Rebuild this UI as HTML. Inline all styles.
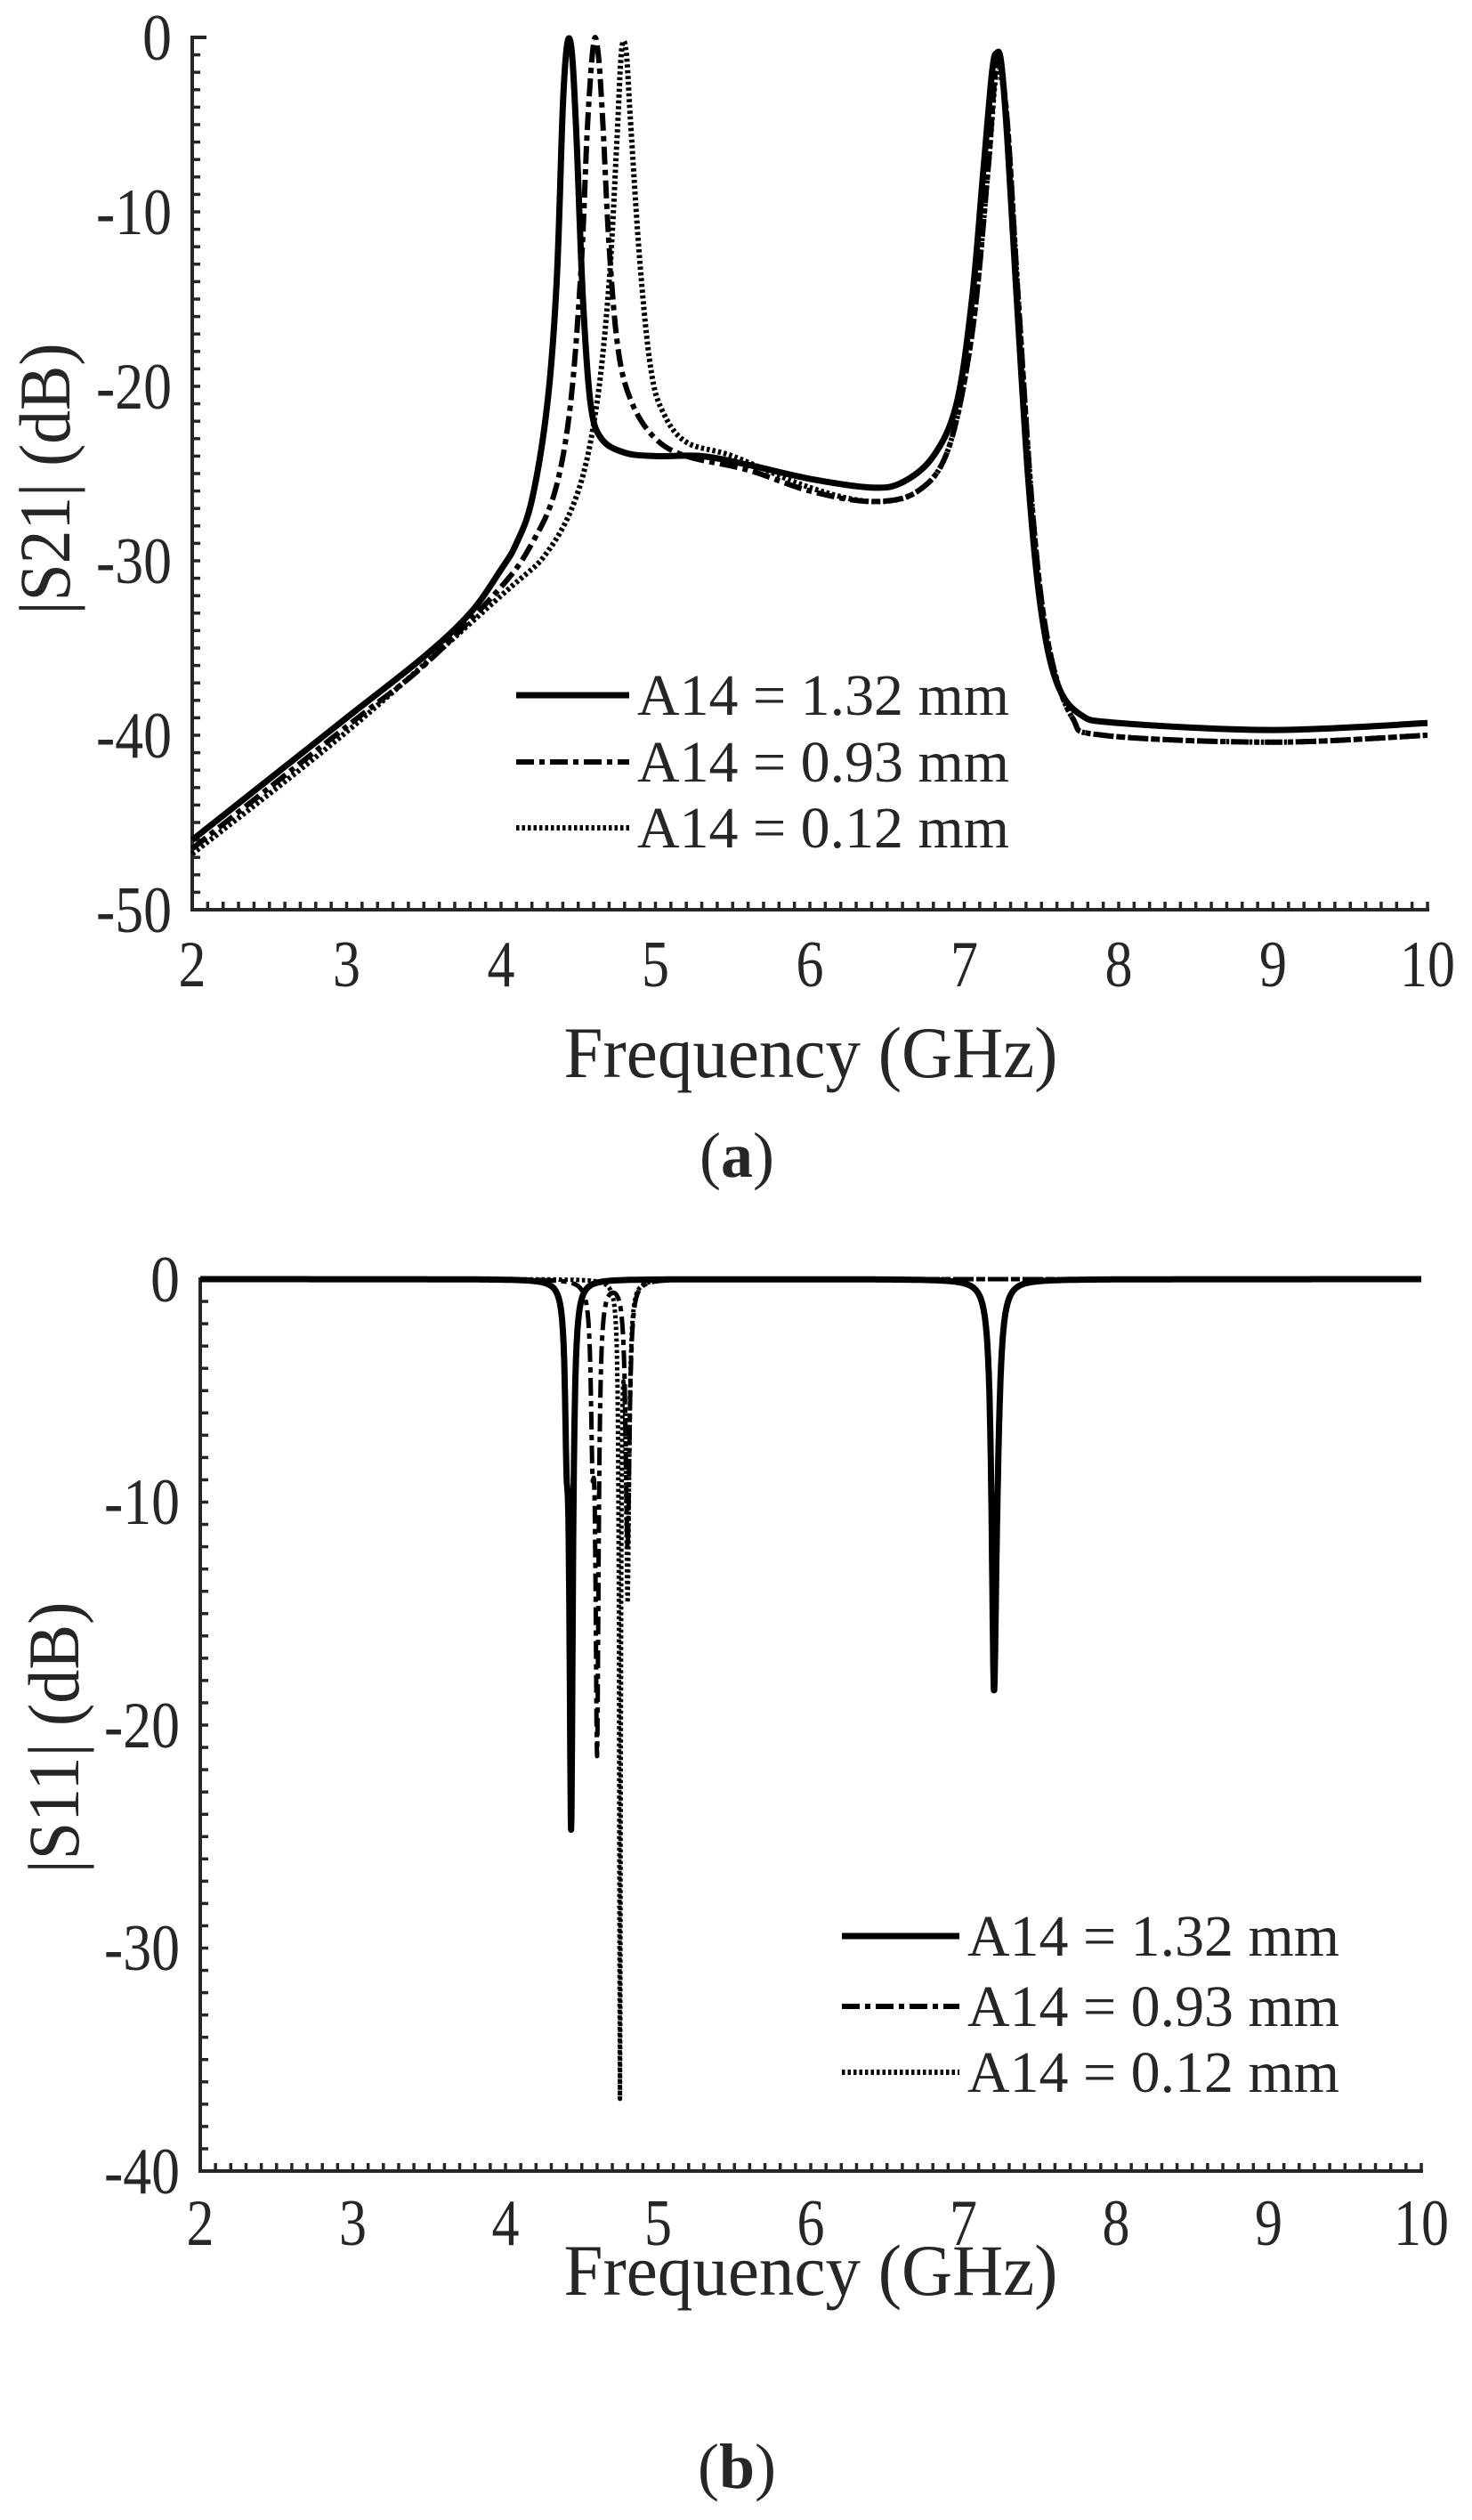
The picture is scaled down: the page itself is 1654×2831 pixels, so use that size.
<!DOCTYPE html>
<html><head><meta charset="utf-8">
<style>
html,body{margin:0;padding:0;background:#fff;}
svg{display:block;}
text{font-family:"Liberation Serif",serif;fill:#262626;}
</style></head>
<body>
<svg id="s" width="1654" height="2831" viewBox="0 0 1654 2831" xmlns="http://www.w3.org/2000/svg">
<rect width="1654" height="2831" fill="#fff"/>
<g id="ga"></g>
<g id="gb"></g>
<g font-size="74">
<text x="193" y="67" text-anchor="end" textLength="33" lengthAdjust="spacingAndGlyphs">0</text>
<text x="193" y="263" text-anchor="end" textLength="85" lengthAdjust="spacingAndGlyphs">-10</text>
<text x="193" y="459" text-anchor="end" textLength="85" lengthAdjust="spacingAndGlyphs">-20</text>
<text x="193" y="655" text-anchor="end" textLength="85" lengthAdjust="spacingAndGlyphs">-30</text>
<text x="193" y="851" text-anchor="end" textLength="85" lengthAdjust="spacingAndGlyphs">-40</text>
<text x="193" y="1047" text-anchor="end" textLength="85" lengthAdjust="spacingAndGlyphs">-50</text>
</g>
<g font-size="74" text-anchor="middle" id="xa"></g>
<text x="911" y="1210" font-size="82" text-anchor="middle" textLength="555" lengthAdjust="spacingAndGlyphs">Frequency (GHz)</text>
<text transform="translate(78,538) rotate(-90)" font-size="82" text-anchor="middle" textLength="305" lengthAdjust="spacingAndGlyphs">|S21| (dB)</text>
<text x="828" y="1322" font-size="72" text-anchor="middle">(<tspan font-weight="bold">a</tspan>)</text>
<g font-size="66">
<text x="716" y="803" textLength="418" lengthAdjust="spacingAndGlyphs">A14 = 1.32 mm</text>
<text x="716" y="878" textLength="418" lengthAdjust="spacingAndGlyphs">A14 = 0.93 mm</text>
<text x="716" y="952" textLength="418" lengthAdjust="spacingAndGlyphs">A14 = 0.12 mm</text>
</g>
<line x1="580" y1="781" x2="707" y2="781" stroke="#000" stroke-width="7"/>
<line x1="580" y1="856" x2="707" y2="856" stroke="#000" stroke-width="6" stroke-dasharray="20,6,6,6"/>
<line x1="580" y1="930" x2="707" y2="930" stroke="#000" stroke-width="6" stroke-dasharray="3.5,3"/>

<g font-size="74">
<text x="202" y="1462" text-anchor="end" textLength="33" lengthAdjust="spacingAndGlyphs">0</text>
<text x="202" y="1712" text-anchor="end" textLength="85" lengthAdjust="spacingAndGlyphs">-10</text>
<text x="202" y="1963" text-anchor="end" textLength="85" lengthAdjust="spacingAndGlyphs">-20</text>
<text x="202" y="2213" text-anchor="end" textLength="85" lengthAdjust="spacingAndGlyphs">-30</text>
<text x="202" y="2464" text-anchor="end" textLength="85" lengthAdjust="spacingAndGlyphs">-40</text>
</g>
<g font-size="74" text-anchor="middle" id="xb"></g>
<text x="911" y="2578" font-size="82" text-anchor="middle" textLength="555" lengthAdjust="spacingAndGlyphs">Frequency (GHz)</text>
<text transform="translate(88,1952) rotate(-90)" font-size="82" text-anchor="middle" textLength="305" lengthAdjust="spacingAndGlyphs">|S11| (dB)</text>
<text x="828" y="2795" font-size="72" text-anchor="middle">(<tspan font-weight="bold">b</tspan>)</text>
<g font-size="66">
<text x="1087" y="2197" textLength="418" lengthAdjust="spacingAndGlyphs">A14 = 1.32 mm</text>
<text x="1087" y="2276" textLength="418" lengthAdjust="spacingAndGlyphs">A14 = 0.93 mm</text>
<text x="1087" y="2350" textLength="418" lengthAdjust="spacingAndGlyphs">A14 = 0.12 mm</text>
</g>
<line x1="946" y1="2175" x2="1078" y2="2175" stroke="#000" stroke-width="7"/>
<line x1="946" y1="2254" x2="1078" y2="2254" stroke="#000" stroke-width="6" stroke-dasharray="20,6,6,6"/>
<line x1="946" y1="2328" x2="1078" y2="2328" stroke="#000" stroke-width="6" stroke-dasharray="3.5,3"/>
</svg>
<script>
var NS="http://www.w3.org/2000/svg";
function el(p,t,a){var e=document.createElementNS(NS,t);for(var k in a)e.setAttribute(k,a[k]);p.appendChild(e);return e;}
function axes(g,x0,x1,y0,y1,nY,topTick){
  var c="#262626";
  el(g,"line",{x1:x0,y1:y0-2,x2:x0,y2:y1+2,stroke:c,"stroke-width":4});
  el(g,"line",{x1:x0-2,y1:y1,x2:x1+2,y2:y1,stroke:c,"stroke-width":4});
  if(topTick) el(g,"line",{x1:x0,y1:y0,x2:x0+16,y2:y0,stroke:c,"stroke-width":4});
  var ux=(x1-x0)/80;
  for(var i=1;i<=80;i++){var x=x0+i*ux;el(g,"line",{x1:x,y1:y1,x2:x,y2:y1-9,stroke:c,"stroke-width":3.5});}
  var uy=(y1-y0)/(nY*10);
  for(var j=1;j<nY*10;j++){var y=y1-j*uy;el(g,"line",{x1:x0,y1:y,x2:x0+9,y2:y,stroke:c,"stroke-width":3.5});}
}
function xlabels(g,x0,x1,y){
  for(var f=2;f<=10;f++){var x=x0+(f-2)*(x1-x0)/8;
    var t=el(g,"text",{x:x,y:y,textLength:f==10?62:31,lengthAdjust:"spacingAndGlyphs"});t.textContent=f;}
}
var ga=document.getElementById("ga"),gb=document.getElementById("gb");
axes(ga,216,1604,42,1022,5,true);
axes(gb,225,1597,1437,2439,4,false);
xlabels(document.getElementById("xa"),216,1604,1108);
xlabels(document.getElementById("xb"),225,1597,2522);
function XA(f){return 216+(f-2)*173.5;} function YA(d){return 42-d*19.6;}
function path(g,pts,X,Y,style,smooth){
  var P=pts.map(function(p){return [X(p[0]),Y(p[1])];});
  var d="M"+P[0][0].toFixed(1)+","+P[0][1].toFixed(1);
  for(var i=0;i<P.length-1;i++){
    if(smooth){
      var p0=P[Math.max(i-1,0)],p1=P[i],p2=P[i+1],p3=P[Math.min(i+2,P.length-1)];
      var c1=[p1[0]+(p2[0]-p0[0])/6,p1[1]+(p2[1]-p0[1])/6],c2=[p2[0]-(p3[0]-p1[0])/6,p2[1]-(p3[1]-p1[1])/6];
      d+=" C"+c1[0].toFixed(1)+","+c1[1].toFixed(1)+" "+c2[0].toFixed(1)+","+c2[1].toFixed(1)+" "+p2[0].toFixed(1)+","+p2[1].toFixed(1);
    } else d+=" L"+P[i+1][0].toFixed(1)+","+P[i+1][1].toFixed(1);
  }
  var a={d:d,fill:"none",stroke:"#000","stroke-linejoin":"round"};for(var k in style)a[k]=style[k];
  el(g,"path",a);
}
var s1=[[2,-46],[2.5,-42.5],[3,-39],[3.5,-35.5],[3.8,-33],[4.0,-30.5],[4.1,-29],[4.2,-26.5],[4.3,-21],[4.36,-14],[4.40,-4],[4.43,-0.3],[4.46,-1],[4.49,-6],[4.53,-15],[4.58,-21],[4.65,-23],[4.8,-23.8],[5.0,-24],[5.3,-24],[5.6,-24.5],[6.0,-25.3],[6.4,-25.8],[6.6,-25.5],[6.8,-24],[6.95,-21],[7.05,-15],[7.12,-8],[7.18,-2],[7.21,-0.9],[7.24,-1.5],[7.28,-6],[7.34,-15],[7.42,-26],[7.5,-33],[7.6,-37],[7.75,-38.8],[8,-39.3],[9,-39.7],[10,-39.3]];
var s2=[[2,-46.5],[3,-39.5],[3.5,-36],[4,-31.5],[4.2,-29],[4.35,-26],[4.45,-21],[4.52,-13],[4.56,-5],[4.6,-0.3],[4.63,-1],[4.66,-5],[4.7,-12],[4.76,-18],[4.85,-21],[5.0,-23],[5.2,-24],[5.6,-24.8],[6,-26],[6.4,-26.6],[6.7,-26],[6.9,-23.5],[7.05,-17],[7.15,-8],[7.2,-2],[7.23,-1.5],[7.28,-5],[7.35,-15],[7.45,-28],[7.55,-35],[7.7,-39],[7.9,-40],[9,-40.4],[10,-40]];
var s3=[[2,-46.8],[3,-39.8],[4,-32],[4.3,-29.5],[4.5,-26],[4.62,-21],[4.7,-14],[4.75,-6],[4.78,-0.8],[4.81,-0.8],[4.84,-5],[4.9,-13],[4.97,-19],[5.05,-21.5],[5.2,-23.2],[5.5,-24],[6,-25.8],[6.4,-26.6],[6.7,-26],[6.9,-23.5],[7.05,-17],[7.15,-8],[7.2,-2.5],[7.23,-2],[7.28,-5],[7.35,-15],[7.45,-28],[7.55,-35],[7.7,-39],[7.9,-40],[9,-40.4],[10,-40]];
path(ga,s3,XA,YA,{"stroke-width":6,"stroke-dasharray":"3.5,3"},true);
path(ga,s2,XA,YA,{"stroke-width":6,"stroke-dasharray":"20,6,6,6"},true);
path(ga,s1,XA,YA,{"stroke-width":7},true);
function XB(f){return 225+(f-2)*171.5;} function YB(d){return 1437-d*25.05;}
function s11(dips){var pts=[];for(var f=2;f<=10.0001;f+=0.002){var v=0;dips.forEach(function(q){v+=-q[1]/(1+Math.pow((f-q[0])/q[2],2));});pts.push([f,Math.max(v,-40)]);}return pts;}
path(gb,s11([[4.75,36,0.006],[4.80,14,0.012]]),XB,YB,{"stroke-width":5,"stroke-dasharray":"3.5,3"});
path(gb,s11([[4.6,20.5,0.012],[4.57,6,0.012],[4.80,12,0.015]]),XB,YB,{"stroke-width":5,"stroke-dasharray":"20,6,6,6"});
path(gb,s11([[4.43,24,0.013],[4.40,5,0.012],[7.2,16,0.018],[7.22,4,0.025]]),XB,YB,{"stroke-width":7});
</script>
</body></html>
